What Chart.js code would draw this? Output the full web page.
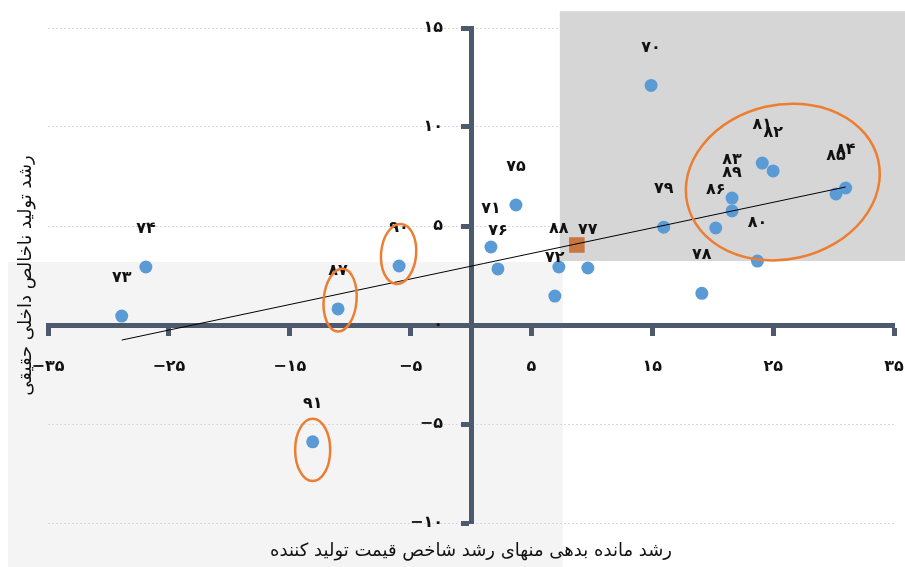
<!DOCTYPE html>
<html lang="fa">
<head>
<meta charset="utf-8">
<title>رشد تولید ناخالص داخلی حقیقی</title>
<script src="https://cdn.jsdelivr.net/npm/chart.js@4.4.1/dist/chart.umd.min.js"></script>
<style>
  html, body { margin: 0; padding: 0; background: #fff; }
  #wrap { width: 905px; height: 567px; }
</style>
</head>
<body>
<div id="wrap"><canvas id="chart" width="905" height="567"></canvas></div>
<script>
// years 1370..1391, one label per point
var years = ['۷۰', '۷۱', '۷۲', '۷۳', '۷۴', '۷۵', '۷۶', '۷۷', '۷۸', '۷۹', '۸۰',
    '۸۱', '۸۲', '۸۳', '۸۴', '۸۵', '۸۶', '۸۷', '۸۸', '۸۹', '۹۰', '۹۱']
// real debt growth minus PPI growth
var debtGrowth = [14.9, 1.65, 6.94, -28.9, -26.9, 3.72, 2.23, 9.67, 19.1, 15.95, 23.7,
    24.1, 25.0, 21.6, 31.0, 30.2, 20.25, -11.0, 7.27, 21.6, -5.95, -13.1]
// real GDP growth
var gdpGrowth = [12.1, 3.94, 1.46, 0.45, 2.93, 6.06, 2.83, 2.88, 1.6, 4.94, 3.23,
    8.18, 7.78, 6.41, 6.92, 6.62, 4.9, 0.81, 2.93, 5.76, 2.98, -5.9]

// average point (orange square)
var meanX = [8.76]
var meanY = [4.04]

// fitted line end points
var trendX = [-28.9, 31.0]
var trendY = [-0.76, 6.97]

var xTicks = [-35, -25, -15, -5, 5, 15, 25, 35]
var xTickLabels = ['−۳۵', '−۲۵', '−۱۵', '−۵', '۵', '۱۵', '۲۵', '۳۵']
var yTicks = [-10, -5, 0, 5, 10, 15]
var yTickLabels = ['−۱۰', '−۵', '۰', '۵', '۱۰', '۱۵']

var xTitle = 'رشد مانده بدهی منهای رشد شاخص قیمت تولید کننده'
var yTitle = 'رشد تولید ناخالص داخلی حقیقی'

// shaded regions and highlight ellipses, in axis units
var shades = [
    { x0: -38.3, x1: 7.6, y0: -12.4, y1: 3.18, color: '#f4f4f4' },
    { x0: 7.35, x1: 36.5, y0: 3.23, y1: 15.85, color: '#d6d6d6' }
]
var ellipses = [
    { x: 25.8, y: 7.22, rx: 8.1, ry: 3.9, rot: -13 },
    { x: -5.99, y: 3.59, rx: 1.45, ry: 1.52, rot: 5 },
    { x: -10.83, y: 1.26, rx: 1.36, ry: 1.59, rot: 5 },
    { x: -13.1, y: -6.31, rx: 1.45, ry: 1.57, rot: 0 }
]

var axisColor = '#4d5a6e'
var gridColor = '#d5d9df'
var fontFamily = '"DejaVu Sans", sans-serif'

function toPoints(xs, ys) {
    return xs.map(function (x, i) { return { x: x, y: ys[i] } })
}

var decor = {
    id: 'decor',
    beforeDraw: function (chart) {
        var ctx = chart.ctx
        var sx = chart.scales.x, sy = chart.scales.y
        ctx.save()
        shades.forEach(function (s) {
            var l = sx.getPixelForValue(s.x0), r = sx.getPixelForValue(s.x1)
            var t = sy.getPixelForValue(s.y1), b = sy.getPixelForValue(s.y0)
            ctx.fillStyle = s.color
            ctx.fillRect(l, t, r - l, b - t)
        })
        ctx.restore()
    },
    afterDatasetsDraw: function (chart) {
        var ctx = chart.ctx
        var sx = chart.scales.x, sy = chart.scales.y
        ctx.save()
        ctx.fillStyle = '#111'
        ctx.textBaseline = 'middle'
        // y tick labels, left of the centred axis
        ctx.font = 'bold 16px ' + fontFamily
        ctx.textAlign = 'right'
        var axisX = sx.getPixelForValue(0)
        yTicks.forEach(function (v, i) {
            ctx.fillText(yTickLabels[i], axisX - 28, sy.getPixelForValue(v))
        })
        // year labels above the dots
        var meta = chart.getDatasetMeta(2)
        ctx.textAlign = 'center'
        meta.data.forEach(function (pt, i) {
            ctx.fillText(years[i], pt.x, pt.y - 38)
        })
        // orange ellipses
        ctx.strokeStyle = '#ed7d31'
        ctx.lineWidth = 2.5
        ellipses.forEach(function (e) {
            var cx = sx.getPixelForValue(e.x), cy = sy.getPixelForValue(e.y)
            var rx = Math.abs(sx.getPixelForValue(e.x + e.rx) - cx)
            var ry = Math.abs(sy.getPixelForValue(e.y + e.ry) - cy)
            ctx.beginPath()
            ctx.ellipse(cx, cy, rx, ry, e.rot * Math.PI / 180, 0, 2 * Math.PI)
            ctx.stroke()
        })
        ctx.restore()
    },
    afterDraw: function (chart) {
        var ctx = chart.ctx
        var area = chart.chartArea
        ctx.save()
        ctx.fillStyle = '#111'
        ctx.font = '18px ' + fontFamily
        ctx.direction = 'rtl'
        ctx.textAlign = 'center'
        ctx.textBaseline = 'middle'
        ctx.fillText(xTitle, (area.left + area.right) / 2, 551)
        ctx.translate(26, (area.top + area.bottom) / 2)
        ctx.rotate(-Math.PI / 2)
        ctx.fillText(yTitle, 0, 0)
        ctx.restore()
    }
}

new Chart('chart', {
    type: 'scatter',
    data: {
        datasets: [{
            // trend line, drawn on top
            data: toPoints(trendX, trendY),
            showLine: true,
            borderColor: '#000',
            borderWidth: 1,
            pointRadius: 0
        }, {
            data: toPoints(meanX, meanY),
            pointStyle: 'rect',
            pointRadius: 11,
            backgroundColor: '#c8773f',
            borderColor: '#c8773f',
            borderWidth: 0
        }, {
            data: toPoints(debtGrowth, gdpGrowth),
            pointRadius: 6.5,
            backgroundColor: '#5b9bd5',
            borderColor: '#5b9bd5',
            borderWidth: 0
        }]
    },
    options: {
        responsive: false,
        animation: false,
        layout: { padding: { left: 48, right: 10, top: 28, bottom: 44 } },
        plugins: {
            legend: { display: false },
            tooltip: { enabled: false }
        },
        scales: {
            x: {
                type: 'linear',
                position: { y: 0 },
                min: -35,
                max: 35,
                afterBuildTicks: function (scale) {
                    scale.ticks = xTicks.map(function (v) { return { value: v } })
                },
                afterFit: function (scale) {
                    // labels hang below a centred axis, keep them from shrinking the plot
                    scale.paddingLeft = 0
                    scale.paddingRight = 0
                },
                ticks: {
                    callback: function (v, i) { return xTickLabels[i] },
                    color: '#111',
                    font: { family: fontFamily, size: 16, weight: 'bold' },
                    padding: 24,
                    maxRotation: 0
                },
                grid: {
                    drawOnChartArea: false,
                    tickLength: 8,
                    tickWidth: 5,
                    tickColor: axisColor
                },
                border: { color: axisColor, width: 5 }
            },
            y: {
                type: 'linear',
                position: { x: 0 },
                min: -10,
                max: 15,
                afterBuildTicks: function (scale) {
                    scale.ticks = yTicks.map(function (v) { return { value: v } })
                },
                ticks: { display: false },
                grid: {
                    color: function (c) { return c.tick && c.tick.value === 0 ? 'rgba(0,0,0,0)' : gridColor },
                    lineWidth: 1,
                    tickLength: 8,
                    tickWidth: 5,
                    tickColor: axisColor,
                    tickBorderDash: []
                },
                border: { color: axisColor, width: 5, dash: [2, 2] }
            }
        }
    },
    plugins: [decor]
})
</script>
</body>
</html>
